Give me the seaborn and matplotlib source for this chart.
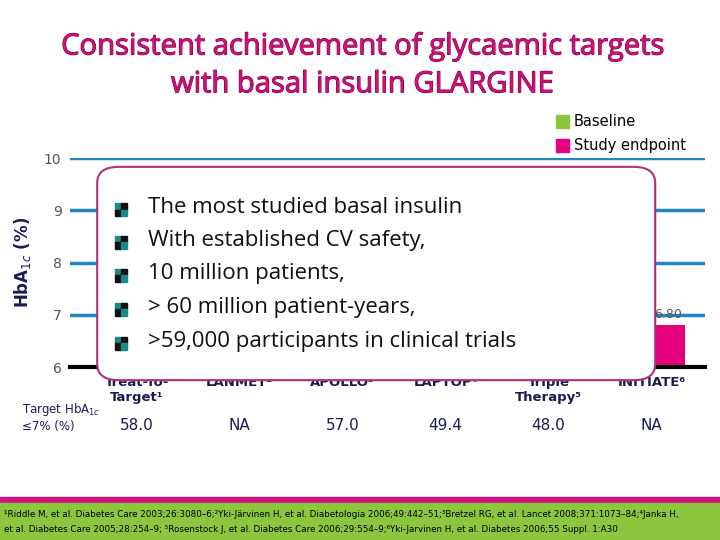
import matplotlib
matplotlib.use("Agg")
import matplotlib.pyplot as plt
import seaborn as sns
import pandas as pd
from matplotlib.patches import FancyBboxPatch, Rectangle
import matplotlib.patheffects as pe

studies = ["Treat-To-\nTarget¹", "LANMET²", "APOLLO³", "LAPTOP⁴", "Triple\nTherapy⁵", "INITIATE⁶"]
baseline = [8.6, 9.1, 8.7, 8.8, 8.8, 8.9]
endpoint = [7.0, 7.1, 6.9, 7.0, 7.0, 6.80]
target_pct = ["58.0", "NA", "57.0", "49.4", "48.0", "NA"]
bullets = ["The most studied basal insulin", "With established CV safety,",
           "10 million patients,", "> 60 million patient-years,",
           ">59,000 participants in clinical trials"]

df = pd.DataFrame({"study": studies * 2,
                   "val": baseline + endpoint,
                   "grp": ["Baseline"] * 6 + ["Study endpoint"] * 6})

GREEN = "#8cc63f"; PINK = "#e5007d"; NAVY = "#1b1b50"
fig = plt.figure(figsize=(7.2, 5.4), dpi=100)
ax = fig.add_axes([0.097, 0.32, 0.882, 0.387])
sns.barplot(data=df, x="study", y="val", hue="grp", palette=[GREEN, PINK],
            width=0.66, saturation=1, ax=ax, legend=False)
for p in ax.patches:
    h = p.get_height()
    p.set_y(6); p.set_height(h - 6)
ax.set_ylim(6, 10)
ax.set_xlim(-0.652, 5.52)
ax.set_yticks([6, 7, 8, 9, 10])
ax.set_yticklabels(["6", "7", "8", "9", "10"], color="#555555", fontsize=10)
ax.tick_params(length=0, pad=6)
for y in [7, 8, 9, 10]:
    ax.axhline(y, color="#2186c4", lw=2.5, zorder=0)
for s in ["top", "right", "left"]:
    ax.spines[s].set_visible(False)
ax.spines["bottom"].set_linewidth(3)
ax.set_xlabel("")
ax.set_ylabel("HbA$_{1c}$ (%)", color=NAVY, fontsize=12, fontweight="bold", labelpad=8)
ax.set_xticks(range(6))
ax.set_xticklabels(studies, color=NAVY, fontsize=9.5, fontweight="bold")
ax.tick_params(axis="x", pad=6)
ax.text(5.165, endpoint[5] + 0.15, f"{endpoint[5]:.2f}", ha="center", fontsize=9, color="#555555")

# target row
fig.text(0.03, 0.228, "Target HbA$_{1c}$\n≤7% (%)", fontsize=8.5, color=NAVY, va="center")
for i, t in enumerate(target_pct):
    xd = ax.transData.transform((i, 0))[0] / 720
    fig.text(xd, 0.203, t, ha="center", fontsize=11, color=NAVY)

# title
for yy, tt in [(0.913, "Consistent achievement of glycaemic targets"), (0.843, "with basal insulin GLARGINE")]:
    fig.text(0.503, yy, tt, ha="center", va="center", fontsize=21, color="#d0107a", family="Open Sans",
             path_effects=[pe.withStroke(linewidth=0.8, foreground="#7a0040")])

# legend
fig.patches.append(Rectangle((0.772, 0.763), 0.018, 0.024, color=GREEN, transform=fig.transFigure))
fig.text(0.797, 0.775, "Baseline", fontsize=10.5, va="center")
fig.patches.append(Rectangle((0.772, 0.718), 0.018, 0.024, color=PINK, transform=fig.transFigure))
fig.text(0.797, 0.730, "Study endpoint", fontsize=10.5, va="center")

# overlay box
pad = 0.03
box = FancyBboxPatch((0.135 + pad, 0.296 + pad), 0.91 - 0.135 - 2 * pad, 0.691 - 0.296 - 2 * pad,
                     boxstyle=f"round,pad={pad}", transform=fig.transFigure,
                     facecolor="white", edgecolor="#b0307a", lw=1.5, zorder=5)
fig.patches.append(box)
ys = [0.615, 0.554, 0.493, 0.430, 0.367]
for y, b in zip(ys, bullets):
    for dx, dy, c in [(0, 0, "#1a8a8a"), (0.0085, 0, "#111111"), (0, -0.0115, "#111111"), (0.0085, -0.0115, "#1a8a8a")]:
        fig.patches.append(Rectangle((0.16 + dx, y - 0.003 + dy), 0.0085, 0.0115, color=c,
                                     transform=fig.transFigure, zorder=6))
    fig.text(0.205, y, b, fontsize=16, va="center", family="Open Sans", zorder=7, color="#111111")

# footer
fig.patches.append(Rectangle((0, 0.068), 1, 0.011, color="#d4127f", transform=fig.transFigure))
fig.patches.append(Rectangle((0, 0), 1, 0.069, color=GREEN, transform=fig.transFigure))
fig.text(0.005, 0.048, "¹Riddle M, et al. Diabetes Care 2003;26:3080–6;²Yki-Järvinen H, et al. Diabetologia 2006;49:442–51;³Bretzel RG, et al. Lancet 2008;371:1073–84;⁴Janka H,",
         fontsize=6.3, va="center")
fig.text(0.005, 0.020, "et al. Diabetes Care 2005;28:254–9; ⁵Rosenstock J, et al. Diabetes Care 2006;29:554–9;⁶Yki-Jarvinen H, et al. Diabetes 2006;55 Suppl. 1:A30",
         fontsize=6.3, va="center")

fig.savefig("out.png", dpi=100)
